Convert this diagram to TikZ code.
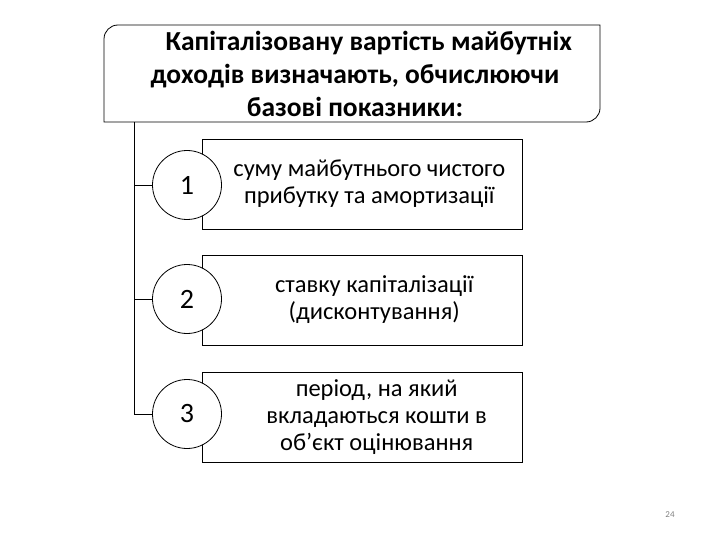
\documentclass[tikz,border=0pt]{standalone}
\usepackage{fontspec}
\setmainfont{Carlito}
\begin{document}
\begin{tikzpicture}[x=1pt,y=-1pt,
 box/.style={draw,thick,fill=white,minimum width=320pt,minimum height=90pt,align=center,font=\fontsize{24.5}{27}\selectfont},
 num/.style={draw,thick,fill=white,circle,minimum size=69pt,font=\fontsize{28}{30}\selectfont},
 conn/.style={draw,thin}]
\useasboundingbox (0,0) rectangle (720,540);
\coordinate (tl) at (104,25);
\coordinate (br) at (600,122);
\draw[thick,fill=white] (104,122) [rounded corners=14pt] -- (tl) [sharp corners] -- (600,25) [rounded corners=14pt] -- (br) [sharp corners] -- cycle;
\node[align=center,font=\bfseries\fontsize{27.5}{33}\selectfont] (title) at (355,74) {\hspace*{1em}Капіталізовану вартість майбутніх\\доходів визначають, обчислюючи\\базові показники:};
\coordinate (v0) at (134,122);
\node[box] (b1) at (362,184) {\hspace*{0.6em}суму майбутнього чистого\\\hspace*{0.6em}прибутку та амортизації};
\node[box] (b2) at (362,300) {\hspace*{1em}ставку капіталізації\\\hspace*{1em}(дисконтування)};
\node[box] (b3) at (362,417) {\hspace*{1.2em}період, на який\\\hspace*{1.2em}вкладаються кошти в\\\hspace*{1.2em}об'єкт оцінювання};
\node[num] (c1) at (187,185) {1};
\node[num] (c2) at (187,299) {2};
\node[num] (c3) at (187,414) {3};
\coordinate (v3) at (134,414);
\draw[conn] (v0) -- (v3) -- (c3);
\draw[conn] (c1 -| v0) -- (c1);
\draw[conn] (c2 -| v0) -- (c2);
\node[text=gray,font=\fontsize{9}{10}\selectfont] (pg) at (670,515) {24};
\end{tikzpicture}
\end{document}
